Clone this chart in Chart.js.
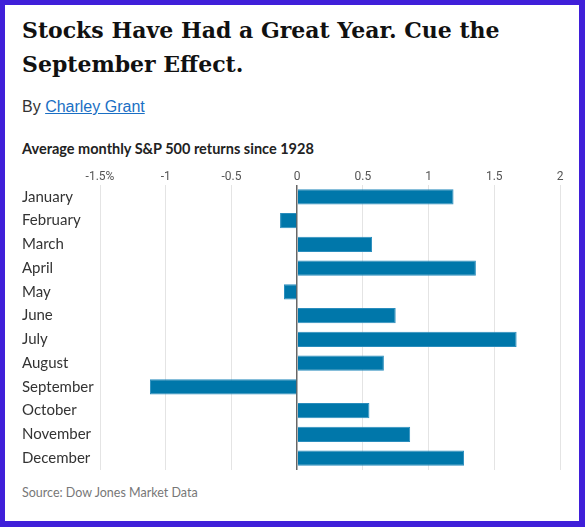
<!DOCTYPE html>
<html><head><meta charset="utf-8">
<script src="https://cdn.jsdelivr.net/npm/chart.js@4"></script>
<style>
html,body{margin:0;padding:0;background:#3f1fd9;}
#frame{position:absolute;left:5px;top:5px;width:574px;height:516px;background:#fff;overflow:hidden;}
#title{position:absolute;left:17px;top:8px;font-family:"DejaVu Serif",serif;font-weight:bold;font-size:22px;line-height:34px;color:#111;width:550px;}
#by{position:absolute;left:17px;top:93px;font-family:"Liberation Sans",Arial,sans-serif;font-size:16px;color:#333;}
#by a{color:#1a6fc4;text-decoration:underline;}
#sub{position:absolute;left:17px;top:135px;font-family:Lato,sans-serif;font-weight:bold;font-size:14.5px;color:#222;}
#src{position:absolute;left:17px;top:480px;font-family:Lato,sans-serif;font-size:12.5px;color:#777;}
#wrap{position:absolute;left:17px;top:155px;width:550px;height:320px;}
</style></head>
<body>
<div id="frame">
<div id="title">Stocks Have Had a Great Year. Cue the<br>September Effect.</div>
<div id="by">By <a href="#">Charley Grant</a></div>
<div id="sub">Average monthly S&amp;P 500 returns since 1928</div>
<div id="wrap"><canvas id="c" width="550" height="320"></canvas></div>
<div id="src">Source: Dow Jones Market Data</div>
</div>
<script>
const months = ["January","February","March","April","May","June","July","August","September","October","November","December"];
const returns = [1.19, -0.13, 0.57, 1.36, -0.10, 0.75, 1.67, 0.66, -1.12, 0.55, 0.86, 1.27];
const tickValues = [-1.5, -1, -0.5, 0, 0.5, 1, 1.5, 2];
const tickLabels = ["-1.5%", "-1", "-0.5", "0", "0.5", "1", "1.5", "2"];

new Chart(document.getElementById('c'), {
  type: 'bar',
  data: {
    labels: months,
    datasets: [{
      data: returns,
      backgroundColor: '#0077aa',
      borderColor: '#2a8dbd',
      borderWidth: 1,
      borderSkipped: 'start',
      categoryPercentage: 1,
      barPercentage: 0.64
    }]
  },
  options: {
    indexAxis: 'y',
    responsive: false,
    animation: false,
    layout: { padding: { top: 0, right: 12, bottom: 10, left: 0 } },
    plugins: { legend: { display: false }, tooltip: { enabled: false } },
    scales: {
      x: {
        position: 'top',
        min: -1.5, max: 2,
        afterBuildTicks: s => { s.ticks = tickValues.map(v => ({ value: v })); },
        afterFit: s => { s.height = 25; },
        ticks: {
          padding: 1,
          color: '#555',
          font: { family: 'Roboto', size: 12 },
          callback: (v) => { const i = tickValues.indexOf(v); return i >= 0 ? tickLabels[i] : ''; }
        },
        grid: {
          drawTicks: false,
          color: ctx => ctx.tick && ctx.tick.value === 0 ? '#666' : '#e4e4e4',
          lineWidth: ctx => ctx.tick && ctx.tick.value === 0 ? 1.5 : 1
        },
        border: { display: false }
      },
      y: {
        afterFit: s => { s.width = 78; },
        ticks: {
          crossAlign: 'far',
          color: '#333',
          font: { family: 'Lato', size: 15 },
          padding: 0
        },
        grid: { display: false },
        border: { display: false }
      }
    }
  }
});
</script>
</body></html>
